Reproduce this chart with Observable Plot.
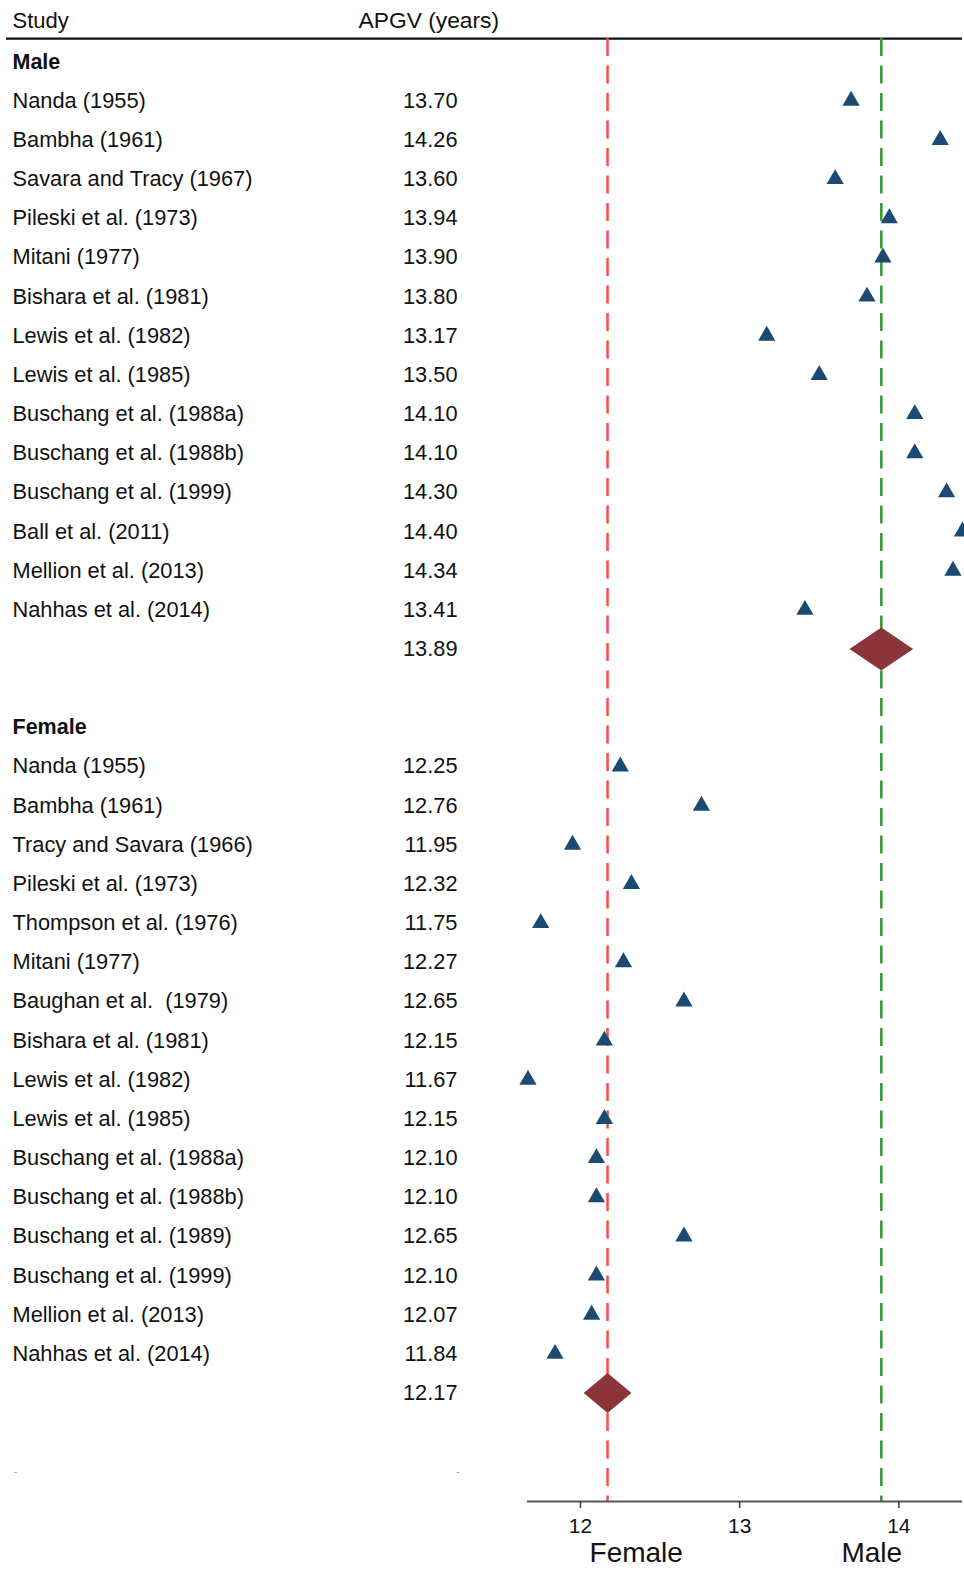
<!DOCTYPE html>
<html>
<head>
<meta charset="utf-8">
<script src="https://cdn.jsdelivr.net/npm/d3@7"></script>
<script src="https://cdn.jsdelivr.net/npm/@observablehq/plot@0.6"></script>
<style>
  html, body { margin: 0; padding: 0; background: #fff; }
  #chart svg { display: block; }
</style>
</head>
<body>
<div id="chart"></div>
<script>
// ---- Data ----
const headers = ["Study", "APGV (years)"];
const groups = ["Male", "Female"];

const maleStudies = [
  "Nanda (1955)", "Bambha (1961)", "Savara and Tracy (1967)", "Pileski et al. (1973)",
  "Mitani (1977)", "Bishara et al. (1981)", "Lewis et al. (1982)", "Lewis et al. (1985)",
  "Buschang et al. (1988a)", "Buschang et al. (1988b)", "Buschang et al. (1999)",
  "Ball et al. (2011)", "Mellion et al. (2013)", "Nahhas et al. (2014)"
];
const maleAPGV = [13.70, 14.26, 13.60, 13.94, 13.90, 13.80, 13.17, 13.50, 14.10, 14.10, 14.30, 14.40, 14.34, 13.41];

const femaleStudies = [
  "Nanda (1955)", "Bambha (1961)", "Tracy and Savara (1966)", "Pileski et al. (1973)",
  "Thompson et al. (1976)", "Mitani (1977)", "Baughan et al.  (1979)", "Bishara et al. (1981)",
  "Lewis et al. (1982)", "Lewis et al. (1985)", "Buschang et al. (1988a)", "Buschang et al. (1988b)",
  "Buschang et al. (1989)", "Buschang et al. (1999)", "Mellion et al. (2013)", "Nahhas et al. (2014)"
];
const femaleAPGV = [12.25, 12.76, 11.95, 12.32, 11.75, 12.27, 12.65, 12.15, 11.67, 12.15, 12.10, 12.10, 12.65, 12.10, 12.07, 11.84];

// pooled estimates [Male, Female]
const pooledEstimate = [13.89, 12.17];
const pooledLow = [13.69, 12.02];
const pooledHigh = [14.09, 12.32];

const xDomain = [11.667, 14.40];
const xTicks = [12, 13, 14];
const axisLabels = ["Female", "Male"];
const axisLabelX = [12.35, 13.83];

// ---- Build row layout ----
const textRows = [];
const pointRows = [];
const diamonds = [];
let r = 0;
r++; // header row (row 0)
const groupData = [
  {name: groups[0], studies: maleStudies, vals: maleAPGV},
  {name: groups[1], studies: femaleStudies, vals: femaleAPGV}
];
groupData.forEach((g, gi) => {
  textRows.push({row: r, label: g.name, value: "", bold: true});
  r++;
  g.studies.forEach((s, i) => {
    textRows.push({row: r, label: s, value: g.vals[i].toFixed(2), bold: false});
    pointRows.push({row: r, v: g.vals[i]});
    r++;
  });
  textRows.push({row: r, label: "", value: pooledEstimate[gi].toFixed(2), bold: false});
  const hh = gi === 0 ? 0.55 : 0.51;
  diamonds.push(
    {g: gi, x: pooledLow[gi], y: r},
    {g: gi, x: pooledEstimate[gi], y: r - hh},
    {g: gi, x: pooledHigh[gi], y: r},
    {g: gi, x: pooledEstimate[gi], y: r + hh}
  );
  r++;
  r++; // blank row
});
const dashRow = r;
const headerRow = -0.05;
const headerLineRow = 0.41;
const axisRow = 37.77;

const refLines = [
  {x: pooledEstimate[1], color: "#ff4a4a"},
  {x: pooledEstimate[0], color: "#2e9a2e"}
];

const font = "'Liberation Sans', Arial, Helvetica, sans-serif";

const plot = Plot.plot({
  width: 964,
  height: 1570,
  marginLeft: 0,
  marginRight: 0,
  marginTop: 0,
  marginBottom: 69,
  style: {fontFamily: font, background: "#fff", color: "#000"},
  x: {domain: xDomain, range: [527, 962], axis: null},
  y: {domain: [0, axisRow], range: [22, 1501], axis: null},
  marks: [
    // header rule
    Plot.ruleY([headerLineRow], {stroke: "#111", strokeWidth: 2.2, insetLeft: 6, insetRight: 2}),
    // reference lines
    Plot.ruleX(refLines, {x: "x", y1: headerLineRow, y2: axisRow, stroke: "color", strokeWidth: 2.5, strokeDasharray: "18,9.5"}),
    // header texts
    Plot.text([headers[0]], {y: headerRow, text: d => d, frameAnchor: "left", dx: 12, textAnchor: "start", fontSize: 22, fill: "#111"}),
    Plot.text([headers[1]], {y: headerRow, text: d => d, frameAnchor: "left", dx: 358, textAnchor: "start", fontSize: 22.8, fill: "#111"}),
    // study text
    Plot.text(textRows.filter(d => !d.bold), {y: "row", text: "label", frameAnchor: "left", dx: 12, textAnchor: "start", fontSize: 21.8, fill: "#111"}),
    Plot.text(textRows.filter(d => d.bold), {y: "row", text: "label", frameAnchor: "left", dx: 12, textAnchor: "start", fontSize: 21.5, fontWeight: "bold", fill: "#111"}),
    // values
    Plot.text(textRows.filter(d => d.value), {y: "row", text: "value", frameAnchor: "left", dx: 457, textAnchor: "end", fontSize: 21.8, fill: "#111"}),
    // tiny placeholder dashes
    Plot.text([dashRow], {y: d => d, text: () => "-", frameAnchor: "left", dx: 14, fontSize: 7, fill: "#333"}),
    Plot.text([dashRow], {y: d => d, text: () => "-", frameAnchor: "left", dx: 456, fontSize: 7, fill: "#333"}),
    // study points
    Plot.dot(pointRows, {x: "v", y: "row", symbol: "triangle", r: 6.4, fill: "#1b4a72", stroke: "none"}),
    // pooled diamonds
    Plot.line(diamonds, {x: "x", y: "y", z: "g", fill: "#8b353a", stroke: "none", curve: "linear-closed"}),
    // x axis line
    Plot.ruleY([axisRow], {x1: xDomain[0], x2: xDomain[1], stroke: "#555", strokeWidth: 2}),
    Plot.axisX({ticks: xTicks, tickSize: 7, tickPadding: 10, fontSize: 21, stroke: "#444", strokeWidth: 1.6, tickFormat: d => String(d), label: null, color: "#111"}),
    // group axis labels
    Plot.text(axisLabels, {x: (d, i) => axisLabelX[i], y: axisRow, dy: 52, text: d => d, fontSize: 28, fill: "#111"})
  ]
});
document.getElementById("chart").appendChild(plot);
</script>
</body>
</html>
